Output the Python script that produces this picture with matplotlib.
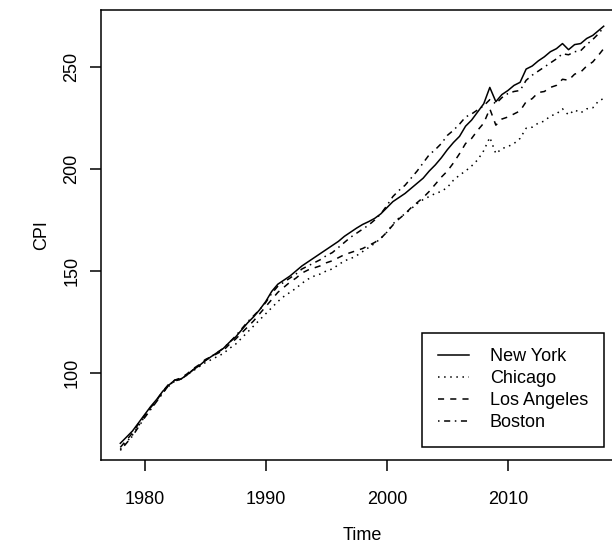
import numpy as np
import matplotlib.pyplot as plt

plt.rcParams['font.family'] = ['Liberation Sans', 'DejaVu Sans']

time = list(np.arange(1978, 2018, 0.5)) + [2017.9]

new_york = [65.5, 68.5, 71.5, 75.5, 79.5, 83.5, 87.0, 91.0, 94.0, 96.5,
            97.0, 99.0, 101.5, 103.5, 106.0, 108.0, 110.0, 112.0, 115.0, 117.5,
            121.0, 124.5, 127.5, 131.0, 135.0, 140.0, 143.5, 145.5, 147.5, 150.0,
            152.5, 154.5, 156.5, 158.5, 160.5, 162.5, 164.5, 167.0, 169.0, 171.0,
            172.8, 174.2, 175.8, 178.0, 181.0, 184.0, 186.0, 188.0, 190.5, 193.0,
            195.5, 199.0, 202.0, 205.5, 209.5, 213.0, 216.0, 221.0, 224.0, 228.0,
            232.0, 240.0, 233.0, 236.5, 238.5, 241.0, 242.5, 249.0, 250.5, 253.0,
            255.0, 257.5, 259.0, 261.5, 258.5, 261.0, 261.5, 264.0, 265.5, 268.0,
            270.0]

chicago = [62.5, 66.0, 69.5, 74.0, 78.5, 82.5, 86.0, 90.5, 93.5, 96.0,
           97.0, 99.0, 101.0, 103.0, 105.0, 106.5, 108.0, 109.5, 112.0, 114.0,
           117.0, 120.0, 123.0, 126.0, 129.0, 132.0, 135.0, 137.5, 139.5, 141.5,
           144.0, 146.0, 147.5, 148.5, 150.0, 151.0, 153.0, 155.0, 156.0, 157.5,
           159.5, 161.5, 163.5, 166.0, 169.0, 173.0, 176.0, 178.0, 180.5, 183.0,
           185.0, 186.5, 188.0, 189.0, 191.0, 194.5, 197.0, 199.0, 201.5, 204.5,
           209.0, 215.5, 207.5, 210.0, 211.0, 212.5, 215.0, 220.0, 220.5, 222.5,
           223.5, 226.0, 227.0, 229.5, 226.5, 229.0, 227.5, 229.5, 230.0, 233.5,
           234.5]

los_angeles = [63.5, 67.0, 70.5, 75.0, 79.0, 83.0, 86.5, 91.0, 94.5, 96.5,
               97.5, 99.5, 102.0, 104.0, 106.5, 108.0, 109.5, 111.0, 114.0, 116.5,
               119.5, 122.5, 125.5, 129.0, 132.5, 136.0, 139.5, 142.0, 144.5, 146.5,
               149.0, 150.5, 151.5, 152.5, 154.0, 155.0, 156.5, 158.0, 159.0, 160.0,
               161.0, 162.5, 164.0, 166.0, 169.0, 172.5, 175.5, 178.0, 181.0, 183.5,
               186.0, 189.0, 192.5, 196.0, 199.0, 203.0, 207.5, 212.5, 215.0, 219.0,
               222.5, 229.5, 221.5, 224.5, 225.5, 227.0, 228.5, 233.0, 234.5, 237.5,
               238.0, 240.0, 241.0, 244.0, 243.5, 246.5, 247.5, 250.5, 252.5, 256.0,
               259.0]

boston = [62.0, 65.5, 69.0, 73.5, 78.0, 82.0, 86.0, 90.0, 94.0, 96.0,
          97.0, 99.0, 101.5, 103.5, 106.0, 108.0, 110.0, 112.0, 115.0, 118.0,
          121.5, 125.0, 128.0, 131.0, 134.5, 139.0, 142.5, 144.5, 146.5, 148.5,
          151.0, 152.5, 154.0, 155.5, 157.5, 159.0, 161.5, 164.0, 166.5, 168.5,
          170.5, 172.5, 175.0, 178.0, 182.0, 186.5, 189.5, 192.0, 195.5, 199.0,
          203.0, 207.0, 209.5, 212.5, 216.5, 219.0, 222.0, 225.5, 227.0, 229.0,
          231.0, 234.0, 232.0, 235.0, 237.0, 238.0, 238.5, 243.5, 246.0, 248.0,
          250.0, 252.0, 254.0, 256.5, 256.0, 257.5, 258.0, 261.0, 263.5, 266.5,
          269.5]

cities = ['New York', 'Chicago', 'Los Angeles', 'Boston']
series = [new_york, chicago, los_angeles, boston]
styles = ['-', (0, (1, 3)), (0, (4, 4)), (0, (1, 3, 4, 3))]

fig = plt.figure(figsize=(6.12, 5.52), dpi=100)
# the right edge of the plot box runs past the picture, as in the original
ax = fig.add_axes([0.165, 0.1667, 0.853, 0.816])

for name, vals, ls in zip(cities, series, styles):
    ax.plot(time, vals, color='black', linestyle=ls, linewidth=1.1, label=name)

# R style 4% padding, y range taken from the first series
xr = time[-1] - time[0]
ax.set_xlim(time[0] - 0.04 * xr, time[-1] + 0.04 * xr)
yr = max(new_york) - min(new_york)
ax.set_ylim(min(new_york) - 0.04 * yr, max(new_york) + 0.04 * yr)

ax.set_xticks([1980, 1990, 2000, 2010])
ax.set_yticks([100, 150, 200, 250])
ax.tick_params(length=8, width=1.1, labelsize=13)
ax.tick_params(axis='x', pad=14)
ax.tick_params(axis='y', pad=7)
for lab in ax.get_yticklabels():
    lab.set_rotation(90)
    lab.set_va('center')
for sp in ax.spines.values():
    sp.set_linewidth(1.1)

ax.set_xlabel('Time', fontsize=13, labelpad=14)
ax.set_ylabel('CPI', fontsize=13, labelpad=9.5)

leg = ax.legend(loc='lower right', bbox_to_anchor=(0.9636, 0.029),
                fontsize=13, frameon=True, fancybox=False, framealpha=1,
                edgecolor='black', borderpad=0.88, labelspacing=0.27,
                handlelength=1.75, handletextpad=1.15, borderaxespad=0)
leg.get_frame().set_linewidth(1.1)

fig.savefig('out.png', dpi=100)
